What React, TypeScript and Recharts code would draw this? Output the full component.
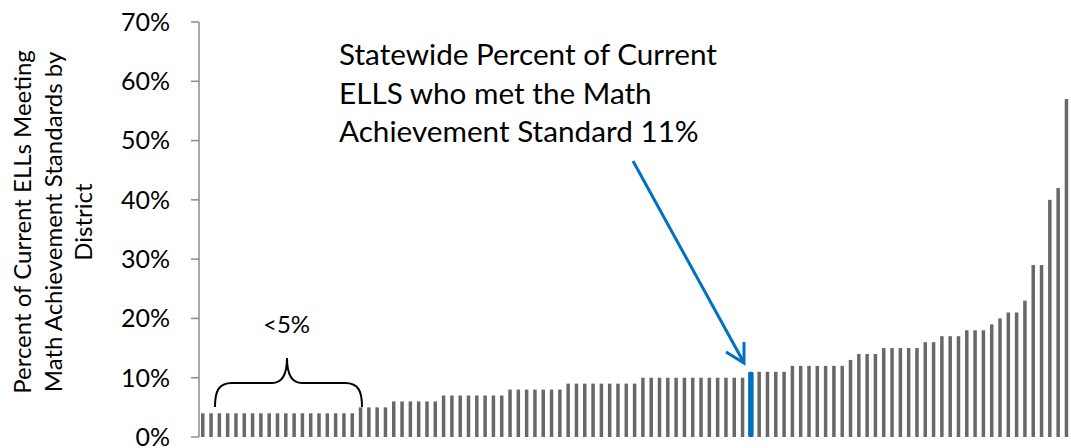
import { BarChart, Bar, XAxis, YAxis } from 'recharts';

// percent of current ELLs meeting the math standard, one value per district, sorted
const DISTRICT_PCT = [
  4, 4, 4, 4, 4, 4, 4, 4, 4, 4, 4, 4, 4, 4, 4, 4, 4, 4, 4,
  5, 5, 5, 5,
  6, 6, 6, 6, 6, 6,
  7, 7, 7, 7, 7, 7, 7, 7,
  8, 8, 8, 8, 8, 8, 8,
  9, 9, 9, 9, 9, 9, 9, 9, 9,
  10, 10, 10, 10, 10, 10, 10, 10, 10, 10, 10, 10, 10,
  11,
  11, 11, 11, 11,
  12, 12, 12, 12, 12, 12, 12,
  13,
  14, 14, 14,
  15, 15, 15, 15, 15,
  16, 16,
  17, 17, 17,
  18, 18, 18,
  19, 20, 21, 21, 23, 29, 29, 40, 42, 57,
];

// position of the statewide bar (11%) inside the sorted list
const STATEWIDE_INDEX = 66;

const Y_TICKS = [0, 10, 20, 30, 40, 50, 60, 70];

const Y_LABEL_LINES = [
  'Percent of Current ELLs Meeting',
  'Math Achievement Standards by',
  'District',
];

const NOTE_LINES = [
  'Statewide Percent of Current',
  'ELLS who met the Math',
  'Achievement Standard 11%',
];

const GRAY = '#686868';
const BLUE = '#0070c0';
const AXIS = '#8c8c8c';
const FONT = 'Lato, "Open Sans", sans-serif';

const data = DISTRICT_PCT.map((pct, i) => ({
  district: `District ${i + 1}`,
  pct,
  statewide: i === STATEWIDE_INDEX,
}));

function BarShape(props: any) {
  const { x, y, width, height, payload } = props;
  if (payload.statewide) {
    return (
      <rect x={x - 1} y={y} width={width + 2} height={height} rx={1.5} fill={BLUE} />
    );
  }
  return <rect x={x} y={y} width={width} height={height} fill={GRAY} />;
}

export default function App() {
  return (
    <div
      style={{
        position: 'absolute',
        left: 0,
        top: 0,
        width: 1071,
        height: 448,
        overflow: 'hidden',
        background: '#fff',
        fontFamily: FONT,
      }}
    >
      <BarChart
        width={1071}
        height={448}
        data={data}
        margin={{ top: 22, right: 0, bottom: 11, left: 0 }}
        barSize={3.5}
      >
        <XAxis dataKey="district" hide />
        <YAxis
          width={199}
          domain={[0, 70]}
          ticks={Y_TICKS}
          interval={0}
          tickFormatter={(v) => `${v}%`}
          tickSize={8}
          tickMargin={21}
          axisLine={{ stroke: AXIS, strokeWidth: 1.5 }}
          tickLine={{ stroke: AXIS, strokeWidth: 1.5 }}
          tick={{ fill: '#000', fontSize: 25, fontFamily: FONT }}
        />
        <Bar dataKey="pct" isAnimationActive={false} shape={BarShape} />
      </BarChart>

      {/* annotations */}
      <svg
        width={1071}
        height={448}
        style={{ position: 'absolute', left: 0, top: 0, pointerEvents: 'none' }}
      >
        {Y_LABEL_LINES.map((line, i) => (
          <text
            key={line}
            transform={`translate(${31 + i * 30.5},222) rotate(-90)`}
            textAnchor="middle"
            fontSize={24}
            fontFamily={FONT}
            fill="#000"
          >
            {line}
          </text>
        ))}

        {NOTE_LINES.map((line, i) => (
          <text
            key={line}
            x={339}
            y={65 + i * 38.5}
            fontSize={29.7}
            fontFamily={FONT}
            fill="#000"
          >
            {line}
          </text>
        ))}

        <line x1={633} y1={161} x2={743} y2={361} stroke={BLUE} strokeWidth={3} />
        <polyline
          points="726,352 744,363 744,342"
          fill="none"
          stroke={BLUE}
          strokeWidth={3}
        />

        <path
          d="M215,407 C215,392 218,383 232,383 L272,383 C282,383 287,375 287,358 C287,375 292,383 302,383 L345,383 C359,383 362,392 362,407"
          fill="none"
          stroke="#000"
          strokeWidth={2}
        />
        <text x={263} y={333} fontSize={24} fontFamily={FONT} fill="#000">
          {'<5%'}
        </text>
      </svg>
    </div>
  );
}
